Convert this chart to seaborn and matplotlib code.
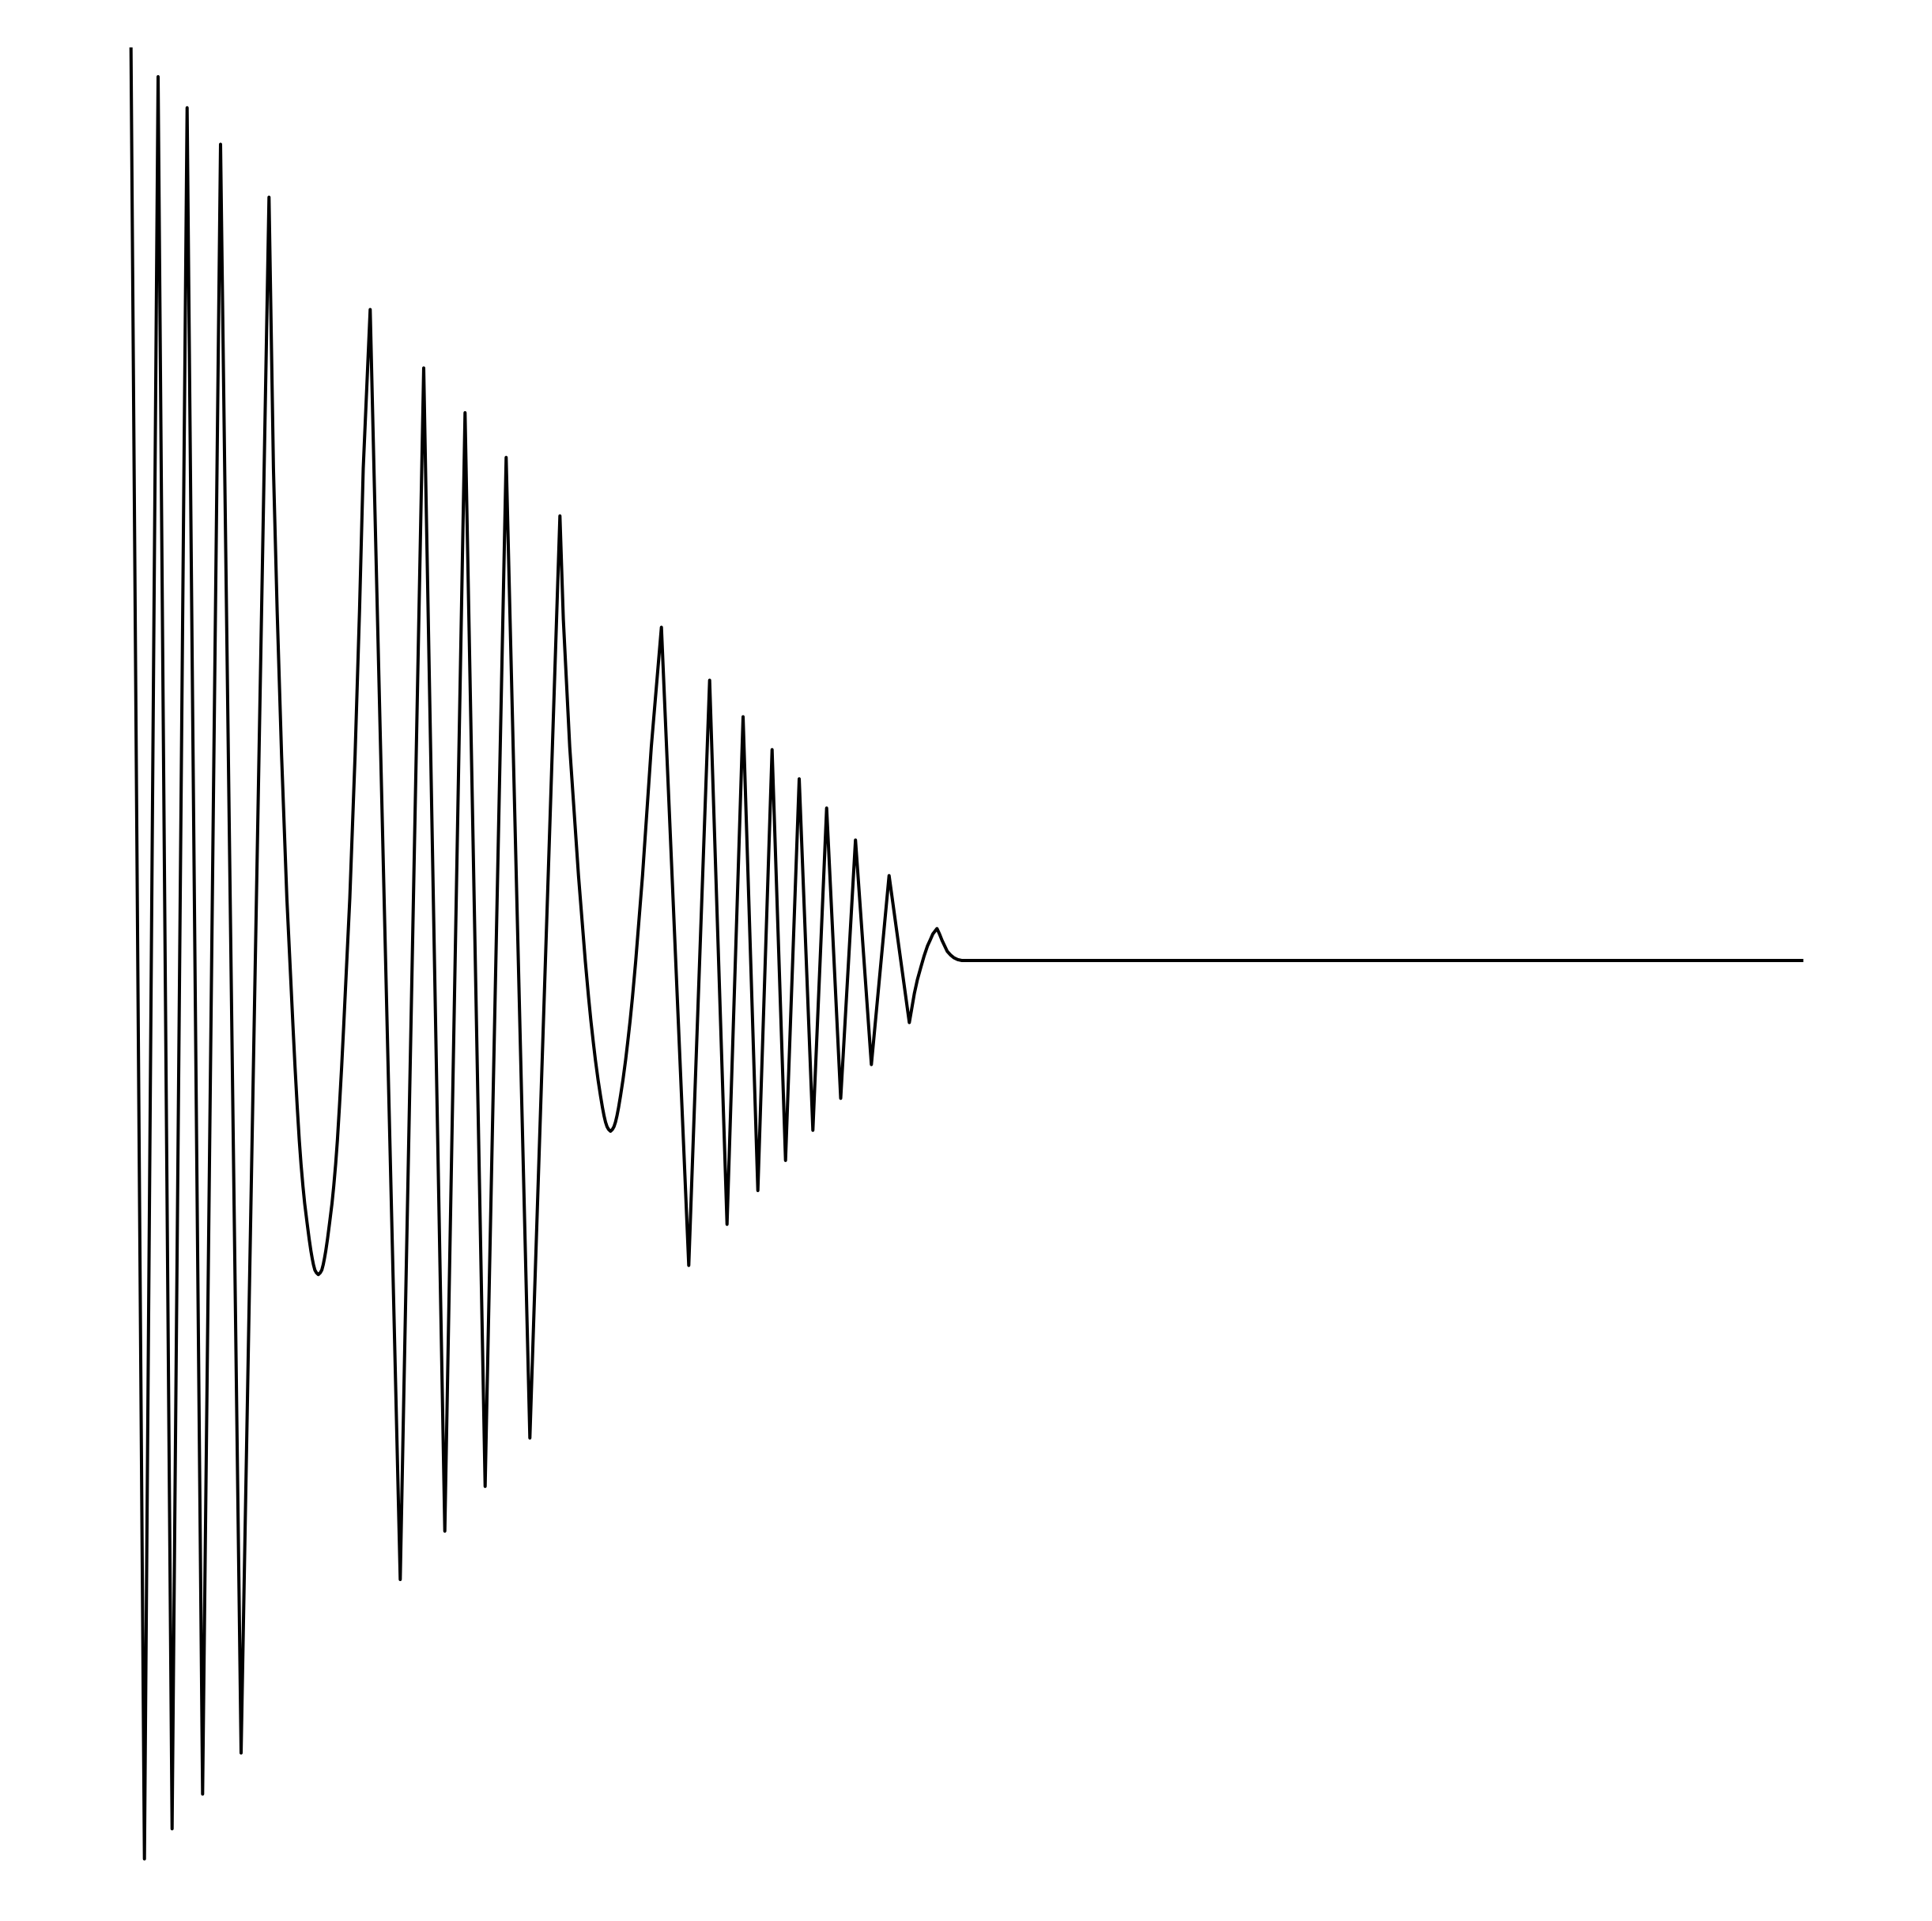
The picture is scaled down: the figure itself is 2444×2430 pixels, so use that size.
import matplotlib
matplotlib.use("Agg")
import matplotlib.pyplot as plt
import pandas as pd
import seaborn as sns

# Damped, decaying waveform.
# time normalised 0..1, amplitude normalised to the first peak.

# fast attack burst
burst1_t = [0.0000, 0.00804, 0.01621, 0.02458, 0.03356, 0.04282, 0.05355,
            0.06584, 0.08253]
burst1_a = [1.000, -0.984, 0.968, -0.951, 0.934, -0.913, 0.894, -0.868, 0.836]

# first slow trough
trough1_t = [0.08518, 0.08740, 0.09004, 0.09321, 0.09692, 0.09810, 0.09940,
             0.10063, 0.10167, 0.10281, 0.10385, 0.10527, 0.10654, 0.10758,
             0.10834, 0.10909, 0.10995, 0.11089, 0.11202, 0.11316, 0.11410,
             0.11496, 0.11571, 0.11647, 0.11751, 0.11878, 0.12020, 0.12124,
             0.12238, 0.12342, 0.12464, 0.12595, 0.12713, 0.13084, 0.13400,
             0.13665, 0.13887, 0.14303]
trough1_a = [0.539, 0.383, 0.225, 0.068, -0.074, -0.117, -0.160,
             -0.197, -0.223, -0.247, -0.266, -0.287, -0.305, -0.318,
             -0.326, -0.333, -0.339, -0.342, -0.344, -0.342, -0.339,
             -0.333, -0.326, -0.318, -0.305, -0.287, -0.266, -0.247,
             -0.223, -0.197, -0.160, -0.117, -0.074, 0.068, 0.225,
             0.383, 0.539, 0.713]

# second burst
burst2_t = [0.16100, 0.17503, 0.18765, 0.19975, 0.21176, 0.22433, 0.23851,
            0.25648]
burst2_a = [-0.678, 0.649, -0.625, 0.600, -0.576, 0.551, -0.523, 0.487]

# second slow trough
trough2_t = [0.25851, 0.26234, 0.26758, 0.27167, 0.27359, 0.27500, 0.27647,
             0.27770, 0.27931, 0.28073, 0.28191, 0.28285, 0.28375, 0.28465,
             0.28559, 0.28673, 0.28786, 0.28880, 0.28970, 0.29060, 0.29155,
             0.29273, 0.29415, 0.29576, 0.29698, 0.29845, 0.29987, 0.30178,
             0.30587, 0.31112, 0.31717]
trough2_a = [0.374, 0.234, 0.093, -0.001, -0.040, -0.066, -0.090,
             -0.109, -0.131, -0.148, -0.161, -0.170, -0.177, -0.182,
             -0.185, -0.187, -0.185, -0.182, -0.177, -0.170, -0.161,
             -0.148, -0.131, -0.109, -0.090, -0.066, -0.040, -0.001,
             0.093, 0.234, 0.365]

# third burst
burst3_t = [0.33352, 0.34600, 0.35640, 0.36600, 0.37483, 0.38334, 0.39138,
            0.39956, 0.40773, 0.41596, 0.42437, 0.43321, 0.44271, 0.45330,
            0.46540]
burst3_a = [-0.334, 0.307, -0.289, 0.267, -0.252, 0.231, -0.219,
            0.199, -0.186, 0.167, -0.151, 0.132, -0.114, 0.093,
            -0.068]

# decay tail and silence
tail_t = [0.46842, 0.47022, 0.47235, 0.47424, 0.47627, 0.47802, 0.47944,
          0.48194, 0.48345, 0.48497, 0.48809, 0.49007, 0.49206, 0.49433,
          0.49679, 1.0000]
tail_a = [-0.036, -0.021, -0.007, 0.005, 0.016, 0.023, 0.029,
          0.035, 0.029, 0.022, 0.010, 0.006, 0.003, 0.001,
          0.000, 0.000]

time_s = burst1_t + trough1_t + burst2_t + trough2_t + burst3_t + tail_t
amplitude = burst1_a + trough1_a + burst2_a + trough2_a + burst3_a + tail_a

df = pd.DataFrame({"time": time_s, "amplitude": amplitude})

sns.set_theme(style="white")
plt.rcParams["font.family"] = ["DejaVu Sans"]

fig = plt.figure(figsize=(24.44, 24.30), dpi=100)
ax = fig.add_axes([165.7 / 2444, 1 - 2370 / 2430, 2115.6 / 2444, 2310 / 2430])

sns.lineplot(
    data=df, x="time", y="amplitude", ax=ax,
    sort=False, estimator=None, color="black", linewidth=2.9,
)
for line in ax.get_lines():
    line.set_clip_on(False)
    line.set_solid_capstyle("butt")
    line.set_solid_joinstyle("round")

ax.set_xlim(0, 1)
ax.set_ylim(-1, 1)
ax.set_axis_off()

fig.savefig("out.png", dpi=100, facecolor="white")
plt.close(fig)
